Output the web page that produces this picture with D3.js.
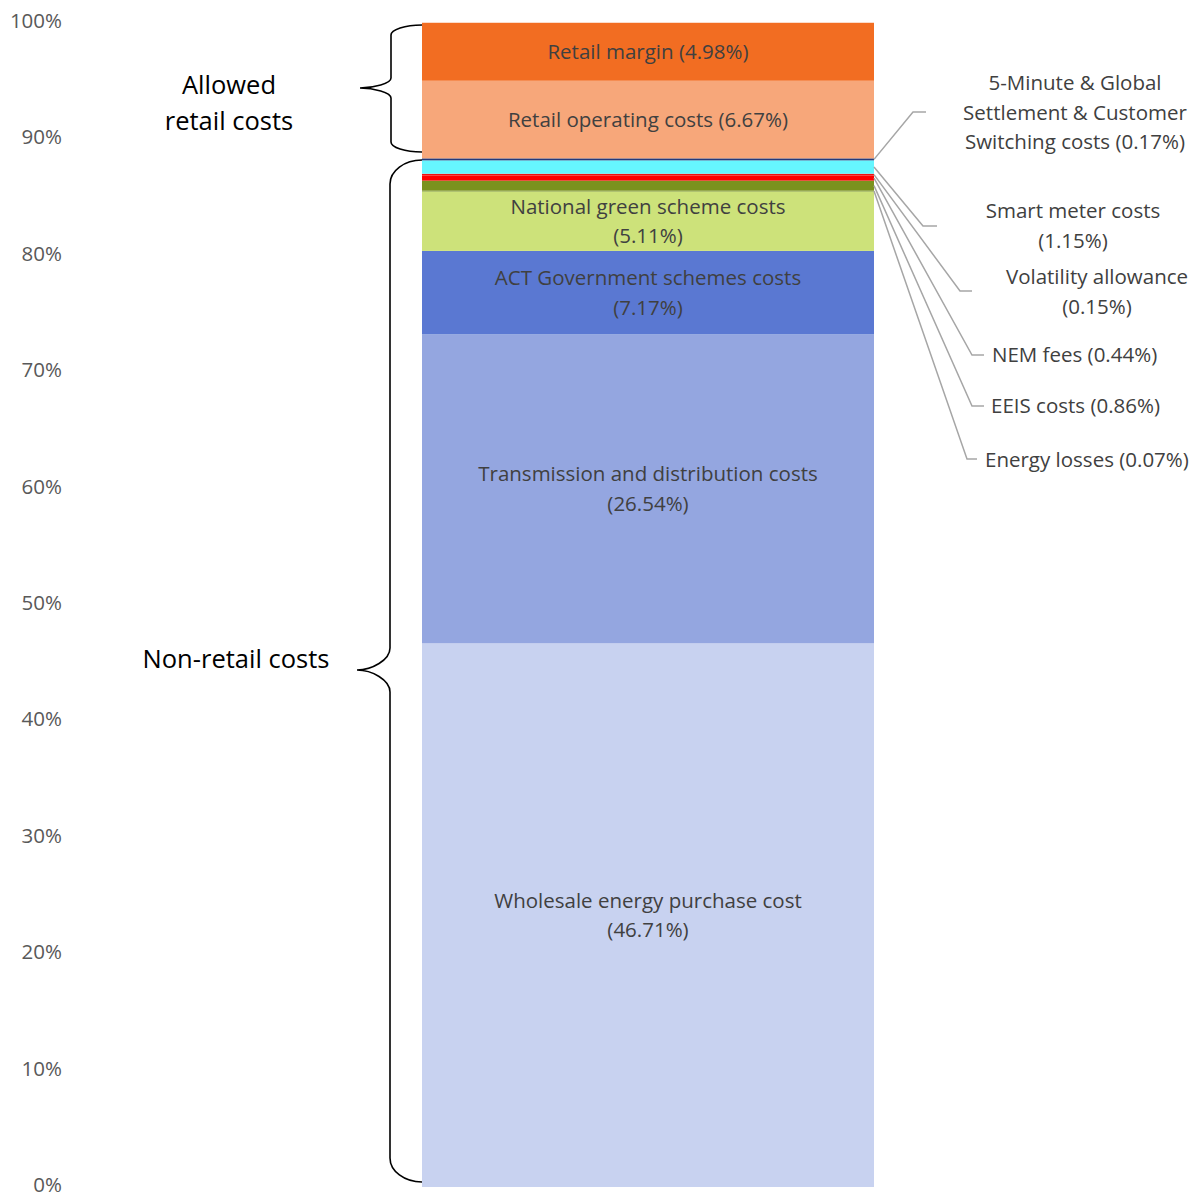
<!DOCTYPE html>
<html>
<head>
<meta charset="utf-8">
<script src="https://cdn.jsdelivr.net/npm/d3@7"></script>
<style>
  html, body { margin: 0; padding: 0; background: #fff; }
  svg { display: block; }
  text { font-family: "Open Sans", "Noto Sans", sans-serif; }
</style>
</head>
<body>
<svg id="chart" width="1199" height="1195"></svg>
<script>
// Cost components, stacked bottom to top (share of the bill, %)
const components = [
  "Wholesale energy purchase cost",
  "Transmission and distribution costs",
  "ACT Government schemes costs",
  "National green scheme costs",
  "Energy losses",
  "EEIS costs",
  "NEM fees",
  "Volatility allowance",
  "Smart meter costs",
  "5-Minute & Global Settlement & Customer Switching costs",
  "Retail operating costs",
  "Retail margin"
];
const shares = [46.71, 26.54, 7.17, 5.11, 0.07, 0.86, 0.44, 0.15, 1.15, 0.17, 6.67, 4.98];
const colours = ["#c8d2f0", "#94a6e0", "#5a78d2", "#cde27a", "#6e8a1a", "#7a921e",
                 "#ff0000", "#f01010", "#66f6ff", "#243a7a", "#f7a77a", "#f26d22"];

// Labels drawn inside the bar (lines of text)
const insideLabels = {
  "Wholesale energy purchase cost": ["Wholesale energy purchase cost", "(46.71%)"],
  "Transmission and distribution costs": ["Transmission and distribution costs", "(26.54%)"],
  "ACT Government schemes costs": ["ACT Government schemes costs", "(7.17%)"],
  "National green scheme costs": ["National green scheme costs", "(5.11%)"],
  "Retail operating costs": ["Retail operating costs (6.67%)"],
  "Retail margin": ["Retail margin (4.98%)"]
};

// Callout labels for the thin slices
const callouts = [
  { name: "5-Minute & Global Settlement & Customer Switching costs",
    lines: ["5-Minute & Global", "Settlement & Customer", "Switching costs (0.17%)"],
    elbow: [913, 112], end: 926, tx: 1075, ty: 83, anchor: "middle" },
  { name: "Smart meter costs", lines: ["Smart meter costs", "(1.15%)"],
    elbow: [923, 226], end: 937, tx: 1073, ty: 211, anchor: "middle" },
  { name: "Volatility allowance", lines: ["Volatility allowance", "(0.15%)"],
    elbow: [960, 291], end: 972, tx: 1097, ty: 277, anchor: "middle" },
  { name: "NEM fees", lines: ["NEM fees (0.44%)"],
    elbow: [972, 355], end: 984, tx: 992, ty: 355, anchor: "start" },
  { name: "EEIS costs", lines: ["EEIS costs (0.86%)"],
    elbow: [972, 406], end: 984, tx: 991, ty: 406, anchor: "start" },
  { name: "Energy losses", lines: ["Energy losses (0.07%)"],
    elbow: [967, 459], end: 977, tx: 985, ty: 460, anchor: "start" }
];

const yTicks = [0, 10, 20, 30, 40, 50, 60, 70, 80, 90, 100];

const svg = d3.select("#chart");
const barLeft = 422, barRight = 874;
const fontSize = 20.5;
const y = d3.scaleLinear().domain([0, 100]).range([1187, 23]);

// Stack the shares into one bar
const stackRow = {};
components.forEach((c, i) => stackRow[c] = shares[i]);
const series = d3.stack().keys(components)([stackRow]);
const colour = d3.scaleOrdinal().domain(components).range(colours);

const segs = series.map(s => ({ key: s.key, y0: s[0][0], y1: s[0][1] }));
const segByKey = Object.fromEntries(segs.map(s => [s.key, s]));

svg.append("g").selectAll("rect").data(segs).join("rect")
  .attr("x", barLeft)
  .attr("width", barRight - barLeft)
  .attr("y", d => y(d.y1))
  .attr("height", d => y(d.y0) - y(d.y1))
  .attr("fill", d => colour(d.key));

// Y axis: labels only
const axis = svg.append("g").attr("transform", "translate(62,0)")
  .call(d3.axisLeft(y).tickValues(yTicks).tickSize(0).tickPadding(0)
        .tickFormat(d => d + "%"));
axis.select(".domain").remove();
axis.selectAll("text")
  .attr("dy", "0.22em")
  .style("font-family", "'Open Sans', sans-serif")
  .style("font-size", fontSize + "px")
  .attr("fill", "#595959");

// Labels inside the bar
const lineH = 29.5;
Object.entries(insideLabels).forEach(([key, lines]) => {
  const s = segByKey[key];
  const cy = (y(s.y0) + y(s.y1)) / 2;
  const t = svg.append("text")
    .attr("x", (barLeft + barRight) / 2)
    .attr("text-anchor", "middle")
    .attr("fill", "#404040")
    .style("font-size", fontSize + "px");
  lines.forEach((ln, i) => {
    t.append("tspan")
      .attr("x", (barLeft + barRight) / 2)
      .attr("y", cy + (i - (lines.length - 1) / 2) * lineH)
      .attr("dy", "0.35em")
      .text(ln);
  });
});

// Leader lines and callout text
const leader = svg.append("g").attr("fill", "none")
  .attr("stroke", "#a6a6a6").attr("stroke-width", 1.5);
callouts.forEach(c => {
  const s = segByKey[c.name];
  const sy = (y(s.y0) + y(s.y1)) / 2;
  leader.append("path")
    .attr("d", d3.line()([[barRight, sy], c.elbow, [c.end, c.elbow[1]]]));
  const t = svg.append("text")
    .attr("text-anchor", c.anchor)
    .attr("fill", "#404040")
    .style("font-size", fontSize + "px");
  c.lines.forEach((ln, i) => {
    t.append("tspan").attr("x", c.tx).attr("y", c.ty + i * 29.5)
      .attr("dy", "0.35em").text(ln);
  });
});

// Curly braces grouping the components
function bracePath(xt, xv, xr, y0, y1, ym, rEnd, rTip) {
  return [
    `M${xr},${y0}`,
    `C${xv + (xr - xv) * 0.45},${y0} ${xv},${y0 + rEnd * 0.45} ${xv},${y0 + rEnd}`,
    `L${xv},${ym - rTip}`,
    `C${xv},${ym - rTip * 0.45} ${xt + (xv - xt) * 0.45},${ym} ${xt},${ym}`,
    `C${xt + (xv - xt) * 0.45},${ym} ${xv},${ym + rTip * 0.45} ${xv},${ym + rTip}`,
    `L${xv},${y1 - rEnd}`,
    `C${xv},${y1 - rEnd * 0.45} ${xv + (xr - xv) * 0.45},${y1} ${xr},${y1}`
  ].join(" ");
}
const braces = svg.append("g").attr("fill", "none").attr("stroke", "#000")
  .attr("stroke-width", 1.6);
braces.append("path").attr("d", bracePath(360, 391, 422, 25, 152, 88, 10, 10));
braces.append("path").attr("d", bracePath(357, 390, 422, 160, 1182, 670, 24, 22));

const groupText = [
  { lines: ["Allowed", "retail costs"], x: 229, y: 85 },
  { lines: ["Non-retail costs"], x: 236, y: 659 }
];
groupText.forEach(g => {
  const t = svg.append("text").attr("text-anchor", "middle")
    .attr("fill", "#000").style("font-size", "25.5px");
  g.lines.forEach((ln, i) => {
    t.append("tspan").attr("x", g.x).attr("y", g.y + i * 36)
      .attr("dy", "0.35em").text(ln);
  });
});
</script>
</body>
</html>
